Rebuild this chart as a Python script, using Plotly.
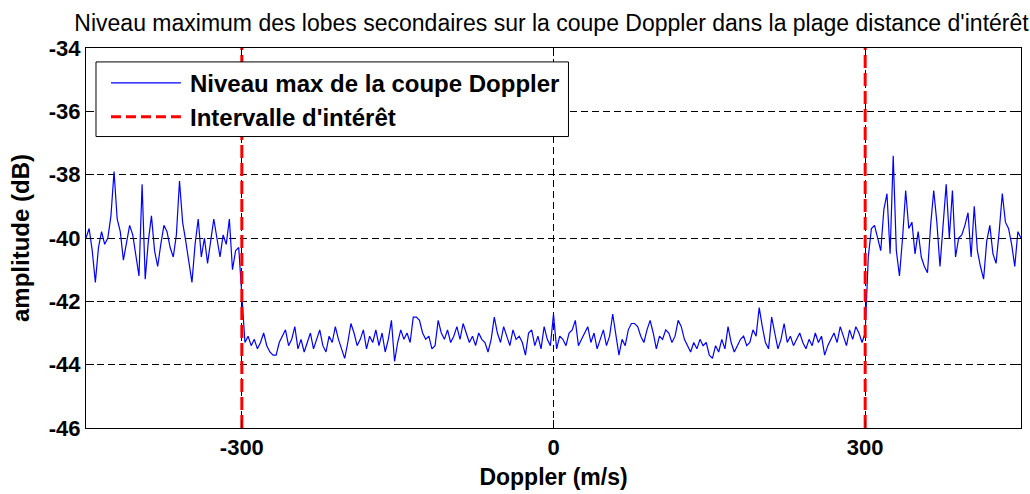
import plotly.graph_objects as go

# Doppler axis (m/s), sampled every 3 m/s
doppler_left = list(range(-450, -299, 3))
doppler_mid = list(range(-297, 298, 3))
doppler_right = list(range(300, 451, 3))

# Max sidelobe level (dB) outside the interval, left side
level_left = [
    -40.0, -39.7, -40.4, -41.4, -40.3, -39.8, -40.2, -40.0, -39.3, -37.9,
    -39.4, -39.8, -40.7, -40.2, -39.6, -39.9, -40.6, -41.2, -38.3, -41.3,
    -40.1, -39.3, -40.4, -40.9, -40.2, -39.6, -39.8, -40.3, -40.6, -39.9,
    -38.2, -39.5, -40.1, -40.7, -41.4, -40.2, -39.4, -40.6, -40.0, -40.8,
    -40.1, -39.4, -40.0, -40.6, -39.9, -40.2, -39.4, -41.0, -40.4, -40.3,
    -41.8,
]

# Max sidelobe level (dB) inside the interval of interest
level_mid = [
    -43.3, -43.1, -43.4, -43.2, -43.5, -43.3, -43.0, -43.4, -43.6, -43.7,
    -43.7, -43.3, -43.1, -42.9, -43.4, -43.2, -42.8, -43.5, -43.2, -43.6,
    -43.3, -43.0, -43.5, -43.2, -42.9, -43.4, -43.6, -43.1, -43.3, -42.8,
    -43.2, -43.5, -43.8, -43.3, -42.7, -43.0, -43.4, -43.2, -42.9, -43.5,
    -43.1, -43.3, -42.9, -43.4, -43.0, -43.6, -43.2, -42.6, -43.9, -43.3,
    -42.9, -43.2, -43.0, -43.3, -42.5, -42.5, -42.6, -43.0, -43.2, -43.1,
    -43.5, -43.4, -42.6, -43.0, -43.2, -42.9, -43.3, -43.1, -42.8, -43.2,
    -42.7, -43.0, -43.3, -43.1, -43.4, -43.0, -43.2, -43.3, -43.6, -43.2,
    -42.5, -43.0, -43.3, -42.8, -43.1, -43.4, -42.9, -43.2, -43.1, -43.3,
    -43.7, -43.0, -42.9, -43.4, -43.1, -43.5, -42.8, -43.2, -43.4, -42.4,
    -43.5, -43.1, -43.2, -43.4, -43.0, -42.9, -42.6, -43.4, -43.2, -43.0,
    -42.8, -43.3, -43.0, -43.5, -43.2, -42.9, -43.4, -43.1, -42.4, -43.0,
    -43.7, -43.2, -43.4, -42.9, -42.7, -42.7, -42.8, -43.1, -43.3, -42.9,
    -42.6, -43.0, -43.5, -43.1, -43.2, -42.9, -43.0, -43.3, -43.1, -42.6,
    -42.8, -43.2, -43.4, -43.6, -43.3, -43.5, -43.2, -43.4, -43.3, -43.7,
    -43.8, -43.4, -43.6, -43.2, -43.5, -42.8, -43.3, -43.6, -43.4, -43.2,
    -43.1, -43.4, -43.3, -42.9, -43.1, -42.2, -42.8, -43.3, -43.5, -42.5,
    -43.0, -43.5, -43.2, -42.7, -43.3, -43.1, -43.4, -43.2, -43.0, -43.3,
    -43.5, -43.2, -43.4, -43.0, -43.3, -43.1, -43.7, -43.4, -43.2, -43.0,
    -43.3, -42.8, -43.1, -43.4, -42.9, -43.2, -42.8, -43.0, -43.3,
]

# Max sidelobe level (dB) outside the interval, right side
level_right = [
    -43.0, -40.6, -39.7, -39.6, -40.0, -40.4, -39.1, -38.6, -40.5, -37.4,
    -40.4, -41.2, -40.0, -38.5, -39.7, -39.5, -40.5, -39.8, -40.6, -40.9,
    -41.1, -39.6, -38.5, -39.5, -40.9, -39.6, -38.3, -40.0, -38.5, -40.6,
    -40.0, -39.9, -39.6, -39.2, -40.6, -39.0, -40.4, -40.9, -41.3, -40.1,
    -39.6, -40.5, -40.8, -39.8, -38.6, -39.5, -39.7, -40.2, -40.9, -39.8,
    -40.0,
]

# Bounds of the Doppler interval of interest (m/s)
interval_bounds = [-300, 300]

x_ticks = [-300, 0, 300]
x_tick_labels = ["-300", "0", "300"]
y_ticks = [-46, -44, -42, -40, -38, -36, -34]
y_tick_labels = ["-46", "-44", "-42", "-40", "-38", "-36", "-34"]

x_range = [-450, 450]
y_range = [-46, -34]

title_text = "Niveau maximum des lobes secondaires sur la coupe Doppler dans la plage distance d'intérêt"
x_label = "Doppler (m/s)"
y_label = "amplitude (dB)"
legend_labels = ["Niveau max de la coupe Doppler", "Intervalle d'intérêt"]

doppler = doppler_left + doppler_mid + doppler_right
level = level_left + level_mid + level_right

BLUE = "#0000ff"
RED = "#ff0000"
FONT = "Liberation Sans, Arial, sans-serif"

W, H = 1030, 494
ML, MR, MT, MB = 86, 8, 48, 64
PW, PH = W - ML - MR, H - MT - MB


def px(xp):
    return (xp - ML) / PW


def py(yp):
    return (H - MB - yp) / PH


fig = go.Figure()

fig.add_trace(go.Scatter(
    x=doppler, y=level, mode="lines",
    line=dict(color=BLUE, width=1.2),
    name=legend_labels[0], showlegend=False, hoverinfo="skip",
))

vx, vy = [], []
for b in interval_bounds:
    vx += [b, b, None]
    vy += [y_range[0], y_range[1], None]
fig.add_trace(go.Scatter(
    x=vx, y=vy, mode="lines",
    line=dict(color=RED, width=3, dash="13px,5px"),
    name=legend_labels[1], showlegend=False, hoverinfo="skip",
))

axis_common = dict(
    showline=True, linecolor="black", linewidth=1, mirror="ticks",
    ticks="inside", ticklen=8, tickcolor="black", tickwidth=1,
    showgrid=True, gridcolor="black", gridwidth=1, griddash="7px,4px",
    zeroline=False,
    tickfont=dict(family=FONT, size=22, color="black", weight="bold"),
)

fig.update_xaxes(
    range=x_range, tickmode="array", tickvals=x_ticks, ticktext=x_tick_labels,
    title=dict(text=f"<b>{x_label}</b>", font=dict(family=FONT, size=23, color="black"), standoff=9),
    **axis_common,
)
fig.update_yaxes(
    range=y_range, tickmode="array", tickvals=y_ticks, ticktext=y_tick_labels,
    title=dict(text=f"<b>{y_label}</b>", font=dict(family=FONT, size=24, color="black"), standoff=12),
    **axis_common,
)

# Legend box drawn in paper coordinates
shapes = [
    dict(type="rect", xref="paper", yref="paper",
         x0=px(96), x1=px(569), y0=py(137), y1=py(62),
         line=dict(color="black", width=1), fillcolor="white", layer="above"),
    dict(type="line", xref="paper", yref="paper",
         x0=px(111), x1=px(181), y0=py(83), y1=py(83),
         line=dict(color=BLUE, width=1.3), layer="above"),
    dict(type="line", xref="paper", yref="paper",
         x0=px(111), x1=px(181), y0=py(117), y1=py(117),
         line=dict(color=RED, width=3, dash="10px,5px"), layer="above"),
]
annotations = [
    dict(xref="paper", yref="paper", x=px(188), y=py(84), xanchor="left", yanchor="middle",
         text=f"<b>{legend_labels[0]}</b>", showarrow=False,
         font=dict(family=FONT, size=24, color="black")),
    dict(xref="paper", yref="paper", x=px(188), y=py(118), xanchor="left", yanchor="middle",
         text=f"<b>{legend_labels[1]}</b>", showarrow=False,
         font=dict(family=FONT, size=24, color="black")),
]

fig.update_layout(
    width=W, height=H,
    margin=dict(l=ML, r=MR, t=MT, b=MB),
    paper_bgcolor="white", plot_bgcolor="white",
    showlegend=False,
    title=dict(text=title_text, x=px(552), xanchor="center", xref="paper",
               y=1 - 23 / H, yanchor="middle", yref="container",
               font=dict(family=FONT, size=23, color="black")),
    shapes=shapes, annotations=annotations,
)

fig.write_html("out.html")
